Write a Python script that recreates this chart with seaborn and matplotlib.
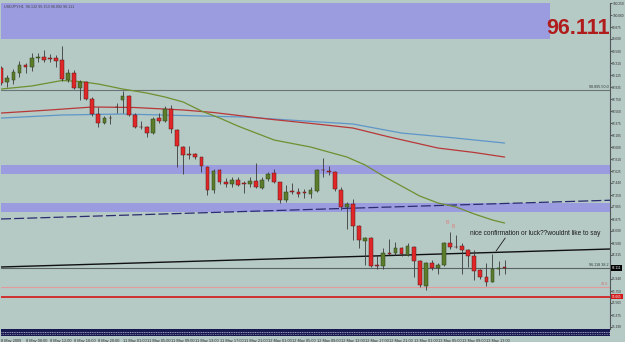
import numpy as np
import pandas as pd
import matplotlib
matplotlib.use("Agg")
import matplotlib.pyplot as plt
import matplotlib.transforms as mtransforms
from matplotlib.patches import Rectangle
import seaborn as sns

# ---------------- data (USDJPY, H1) ----------------
opens = [99.236, 99.017, 99.048, 99.158, 99.283, 99.252, 99.392, 99.408, 99.380, 99.392,
         99.361, 99.048, 99.158, 98.923, 99.017, 98.752, 98.517, 98.377, 98.455, 98.627,
         98.736, 98.798, 98.502, 98.314, 98.314, 98.220, 98.455, 98.408, 98.595, 98.267,
         98.002, 97.877, 97.892, 97.845, 97.689, 97.330, 97.642, 97.455, 97.424, 97.486,
         97.424, 97.424, 97.470, 97.361, 97.502, 97.595, 97.455, 97.174, 97.299, 97.299,
         97.283, 97.267, 97.314, 97.642, 97.627, 97.611, 97.330, 97.064, 97.111, 96.767,
         96.533, 96.580, 96.142, 96.142, 96.345, 96.345, 96.423, 96.314, 96.439, 96.220,
         95.830, 96.189, 96.111, 96.158, 96.502, 96.439, 96.455, 96.392, 96.298, 96.080,
         95.970, 95.892, 96.095, 96.132]
highs = [99.267, 99.127, 99.220, 99.345, 99.314, 99.470, 99.470, 99.517, 99.455, 99.439,
         99.580, 99.220, 99.205, 99.048, 99.033, 98.783, 98.627, 98.486, 98.502, 98.689,
         98.877, 98.820, 98.533, 98.408, 98.330, 98.470, 98.533, 98.642, 98.658, 98.283,
         98.017, 98.017, 97.908, 97.850, 97.705, 97.658, 97.658, 97.517, 97.533, 97.533,
         97.470, 97.533, 97.752, 97.533, 97.611, 97.658, 97.460, 97.408, 97.439, 97.361,
         97.345, 97.377, 97.658, 97.830, 97.705, 97.627, 97.377, 97.142, 97.189, 96.783,
         96.595, 96.595, 96.314, 96.423, 96.564, 96.517, 96.439, 96.502, 96.455, 96.236,
         96.205, 96.236, 96.189, 96.510, 96.673, 96.627, 96.502, 96.408, 96.392, 96.095,
         96.189, 96.330, 96.220, 96.236]
lows = [98.970, 98.939, 98.986, 99.095, 99.158, 99.189, 99.330, 99.330, 99.330, 99.252,
        99.033, 99.017, 98.908, 98.736, 98.736, 98.486, 98.314, 98.361, 98.361, 98.533,
        98.533, 98.486, 98.298, 98.283, 98.158, 98.205, 98.377, 98.392, 98.220, 97.689,
        97.580, 97.814, 97.814, 97.611, 97.252, 97.283, 97.424, 97.377, 97.377, 97.392,
        97.283, 97.377, 97.361, 97.345, 97.470, 97.439, 97.127, 97.142, 97.267, 97.220,
        97.205, 97.205, 97.299, 97.533, 97.564, 97.314, 97.017, 96.720, 96.548, 96.423,
        96.158, 96.127, 96.095, 96.095, 96.314, 96.314, 96.298, 96.298, 95.970, 95.814,
        95.767, 96.080, 96.017, 96.142, 96.408, 96.423, 96.017, 96.127, 95.924, 95.939,
        95.830, 95.885, 96.002, 96.017]
closes = [99.002, 99.080, 99.173, 99.283, 99.252, 99.392, 99.408, 99.361, 99.375, 99.345,
          99.064, 99.158, 98.923, 99.017, 98.752, 98.517, 98.377, 98.455, 98.450, 98.622,
          98.798, 98.502, 98.314, 98.310, 98.220, 98.439, 98.408, 98.595, 98.283, 98.017,
          97.877, 97.873, 97.845, 97.705, 97.330, 97.627, 97.455, 97.424, 97.486, 97.408,
          97.420, 97.470, 97.377, 97.486, 97.580, 97.455, 97.174, 97.299, 97.295, 97.267,
          97.280, 97.330, 97.642, 97.638, 97.611, 97.345, 97.064, 97.111, 96.767, 96.548,
          96.580, 96.142, 96.139, 96.345, 96.330, 96.423, 96.330, 96.455, 96.220, 95.845,
          96.189, 96.111, 96.158, 96.502, 96.439, 96.435, 96.392, 96.298, 96.064, 95.970,
          95.892, 96.095, 96.118, 96.111]

ma_green_bar = [0, 5, 10, 13, 16, 20, 24, 27, 30, 33, 36, 39, 42, 45, 48, 51, 54, 57, 60,
                63, 66, 69, 72, 75, 78, 81, 83]
ma_green = [98.908, 98.955, 99.041, 99.025, 98.986, 98.908, 98.845, 98.783, 98.705, 98.564,
            98.455, 98.330, 98.220, 98.111, 98.056, 98.002, 97.923, 97.845, 97.720, 97.548,
            97.392, 97.236, 97.127, 97.064, 96.955, 96.861, 96.814]
ma_red_bar = [0, 8, 15, 22, 30, 35, 44, 52, 58, 64, 72, 78, 83]
ma_red = [98.533, 98.580, 98.627, 98.619, 98.580, 98.541, 98.439, 98.361, 98.298, 98.158,
          97.986, 97.916, 97.845]
ma_blue_bar = [0, 10, 20, 30, 40, 50, 58, 66, 74, 83]
ma_blue = [98.454, 98.502, 98.517, 98.494, 98.470, 98.408, 98.361, 98.220, 98.150, 98.064]

time_labels = ["8 May 2009", "8 May 08:00", "8 May 12:00", "8 May 16:00", "8 May 20:00",
               "11 May 01:00", "11 May 05:00", "11 May 09:00", "11 May 13:00", "11 May 17:00",
               "11 May 21:00", "12 May 01:00", "12 May 05:00", "12 May 09:00", "12 May 13:00",
               "12 May 17:00", "12 May 21:00", "13 May 01:00", "13 May 05:00", "13 May 09:00",
               "13 May 13:00"]
price_ticks = [100.250, 100.060, 99.875, 99.690, 99.500, 99.310, 99.125, 98.935, 98.750,
               98.560, 98.375, 98.185, 98.000, 97.810, 97.625, 97.440, 97.250, 97.065,
               96.875, 96.690, 96.500, 96.315, 95.940, 95.750, 95.565, 95.375, 95.190]

zone_top = (99.689, 100.40)       # price range of top rectangle
zone_mid = (97.580, 97.721)
zone_low = (96.986, 97.127)
trend_black = (96.127, 96.408)    # price at left / right edge
trend_dash = (96.877, 97.170)
level_gray1 = 98.895
level_gray2 = 96.118
level_pink = 95.814
level_red = 95.665
last_price = 96.111
header = "USDJPY,H1  96.132 96.153 96.092 96.111"
note = "nice confirmation or luck??wouldnt like to say"

# ---------------- style ----------------
BG = "#b5c9c5"
sns.set_theme(style="white")
plt.rcParams["font.family"] = ["Liberation Sans", "DejaVu Sans"]

W, H = 625, 342
fig = plt.figure(figsize=(W / 100, H / 100), dpi=100, facecolor=BG)
ax = fig.add_axes([1 / W, (H - 329) / H, 609 / W, 326 / H], facecolor=BG)
xmin, xmax = -0.05, 100.38
ax.set_xlim(xmin, xmax)
ax.set_ylim(95.158, 100.252)

df = pd.DataFrame({"o": opens, "h": highs, "l": lows, "c": closes})
df["bar"] = np.arange(len(df))

# zones
ax.add_patch(Rectangle((xmin, zone_top[0]), 90.5 - xmin, zone_top[1] - zone_top[0],
                       facecolor="#9b9be0", edgecolor="none", zorder=0.5))
ax.axhspan(*zone_mid, color="#9b9be0", lw=0, zorder=0.5)
ax.axhspan(*zone_low, color="#9b9be0", lw=0, zorder=0.5)

# horizontal levels
ax.axhline(level_gray1, color="#6a7474", lw=0.8, zorder=1)
ax.axhline(level_gray2, color="#5a6464", lw=0.8, zorder=1)
ax.axhline(level_pink, color="#e39a9a", lw=0.8, zorder=1)
ax.axhline(level_red, color="#d21818", lw=1.2, zorder=1)

# trend lines
tl = pd.DataFrame({"x": [xmin, xmax], "y": list(trend_black)})
sns.lineplot(data=tl, x="x", y="y", ax=ax, color="#101010", lw=1.0, zorder=1.2)
td = pd.DataFrame({"x": [xmin, xmax], "y": list(trend_dash)})
sns.lineplot(data=td, x="x", y="y", ax=ax, color="#2c2c70", lw=0.9, zorder=1.2)
ax.lines[-1].set_dashes([8, 2.5])

# moving averages
sns.lineplot(x=ma_blue_bar, y=ma_blue, ax=ax, color="#5f96c8", lw=0.9, zorder=1.5)
sns.lineplot(x=ma_red_bar, y=ma_red, ax=ax, color="#b83838", lw=0.9, zorder=1.5)
sns.lineplot(x=ma_green_bar, y=ma_green, ax=ax, color="#6f9030", lw=0.9, zorder=1.5)

# candles
up = df["c"] >= df["o"]
ax.vlines(df["bar"], df["l"], df["h"], color="#3a3a3a", lw=0.6, zorder=2)
body_lo = np.minimum(df["o"], df["c"])
body_h = np.maximum((df["c"] - df["o"]).abs(), 0.012)
ax.bar(df["bar"][up], body_h[up], bottom=body_lo[up], width=0.62,
       color="#5b7d2b", edgecolor="#2e3e16", lw=0.35, zorder=3)
ax.bar(df["bar"][~up], body_h[~up], bottom=body_lo[~up], width=0.62,
       color="#e02626", edgecolor="#5a1a1a", lw=0.35, zorder=3)

# texts
ax.text(95.1, 99.853, f"{last_price:.3f}", color="#b01c1c", fontsize=15.5,
        fontweight="bold", ha="center", va="center", zorder=4)
ax.text(0.4, 100.235, header, fontsize=2.7, color="#404848", ha="left", va="top", zorder=4)
ax.text(77.3, 96.658, note, fontsize=4.7, color="#1a1a1a", ha="left", va="center", zorder=4)
ax.plot([83.1, 81.6], [96.58, 96.377], color="#1a1a1a", lw=0.6, zorder=4)
ax.text(73.5, 96.815, "8", fontsize=4, color="#e07878", ha="center", va="center")
ax.text(74.5, 96.767, "8", fontsize=4, color="#e07878", ha="center", va="center")
ax.text(100.1, level_gray1 + 0.012, f"{level_gray1:.3f} 50.0", fontsize=2.7,
        color="#303838", ha="right", va="bottom")
ax.text(100.1, level_gray2 + 0.012, f"{level_gray2:.3f} 38.2", fontsize=2.7,
        color="#303838", ha="right", va="bottom")
ax.text(100.1, level_pink + 0.012, "23.6", fontsize=2.7, color="#d07070",
        ha="right", va="bottom")

# right price axis
ax.yaxis.tick_right()
ax.set_yticks(price_ticks)
ax.set_yticklabels([f"{v:.3f}" for v in price_ticks])
ax.tick_params(axis="y", length=1.2, width=0.5, pad=0.4, labelsize=2.3, colors="#303030")
ax.set_xticks([])
for s in ["top", "left", "bottom"]:
    ax.spines[s].set_visible(False)
ax.spines["right"].set_color("#505858")
ax.spines["right"].set_linewidth(0.8)
ax.set_xlabel("")
ax.set_ylabel("")
ax.grid(False)
trans = mtransforms.blended_transform_factory(ax.transAxes, ax.transData)
ax.text(1.003, last_price, f"{last_price:.3f}", transform=trans, fontsize=2.3,
        color="white", ha="left", va="center",
        bbox=dict(boxstyle="square,pad=0.25", fc="black", ec="none"), zorder=5, clip_on=False)
ax.text(1.003, level_red, f"{level_red:.3f}", transform=trans, fontsize=2.3,
        color="white", ha="left", va="center",
        bbox=dict(boxstyle="square,pad=0.25", fc="#d21818", ec="none"), zorder=5, clip_on=False)

# bottom indicator strip with time axis
ax2 = fig.add_axes([1 / W, (H - 336) / H, 609 / W, 7 / H], facecolor="#181850")
ax2.set_xlim(xmin, xmax)
ax2.set_ylim(0, 1)
ax2.axhline(0.62, color="#d8d8f0", lw=0.5, dashes=[1.5, 1])
ax2.axhline(0.3, color="#c8c8e8", lw=0.5, dashes=[1, 1.5])
ax2.set_yticks([])
ax2.set_xticks(np.arange(0, 84, 4))
ax2.set_xticklabels(time_labels, ha="left")
ax2.tick_params(axis="x", length=1.5, width=0.4, pad=0.5, labelsize=2.8, colors="#303030")
for s in ax2.spines.values():
    s.set_visible(False)

fig.savefig("out.png", dpi=100, facecolor=BG)
